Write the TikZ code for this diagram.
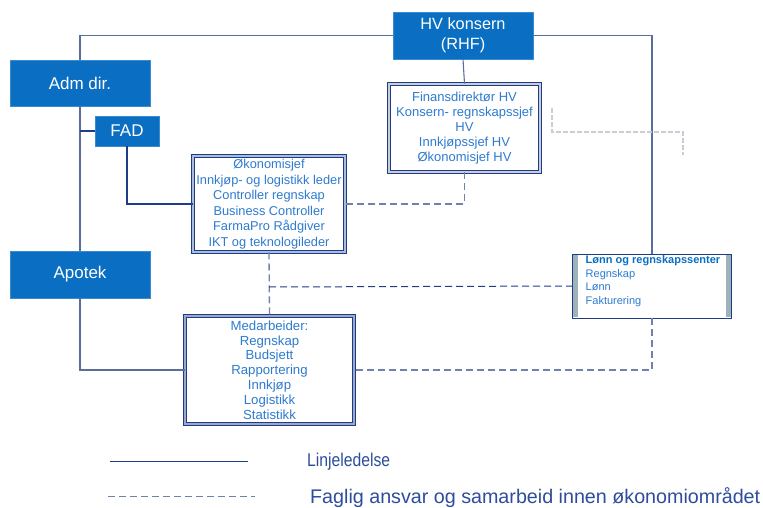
\documentclass[tikz,border=0pt]{standalone}
\usepackage{fontspec}
\setmainfont{Liberation Sans}
\newfontfamily\condfont[FakeStretch=0.85]{Liberation Sans}
\definecolor{boxblue}{HTML}{0A6FC2}
\definecolor{navy}{HTML}{1F3C88}
\definecolor{linegray}{HTML}{5A6E9E}
\definecolor{dashblue}{HTML}{6F82AE}
\definecolor{txtblue}{HTML}{2E7BCF}
\definecolor{legblue}{HTML}{2D4C9C}
\definecolor{bandblue}{HTML}{A9BCD8}
\definecolor{ghost}{HTML}{C8CDD6}
\definecolor{sidebar}{HTML}{9DB3B8}
\begin{document}
\begin{tikzpicture}[x=1pt,y=-1pt,
  bluebox/.style={rectangle,fill=boxblue,draw=boxblue!80!white,text=white,inner sep=0pt,align=center},
  whitebox/.style={rectangle,draw=navy,line width=0.8pt,double=bandblue,double distance=1.8pt,fill=white,text=txtblue,inner sep=0pt,align=center,font=\fontsize{12}{15}\selectfont},
  solidln/.style={draw=linegray,line width=1.1pt},
  dashln/.style={draw=dashblue,line width=1.3pt,dash pattern=on 7pt off 4pt},
  ghostln/.style={draw=ghost,line width=1.2pt,dash pattern=on 5pt off 2pt}
]
\useasboundingbox (0,0) rectangle (763,508);
% nodes
\node[bluebox,minimum width=140pt,minimum height=47pt,font=\fontsize{16.3}{20}\selectfont] (hv) at (463,35.5) {HV konsern\\(RHF)};
\node[bluebox,minimum width=140pt,minimum height=46pt,font=\fontsize{17}{18}\selectfont] (adm) at (80,83) {Adm dir.};
\node[bluebox,minimum width=64pt,minimum height=30pt,font=\fontsize{17}{18}\selectfont] (fad) at (127,131) {FAD};
\node[bluebox,minimum width=140pt,minimum height=47pt,font=\fontsize{17}{18}\selectfont] (apotek) at (80,274.5) {Apotek};
\node[whitebox,minimum width=152pt,minimum height=96pt,font=\fontsize{12.8}{15.5}\selectfont] (oko) at (269,204) {Økonomisjef\\Innkjøp- og logistikk leder\\Controller regnskap\\Business Controller\\FarmaPro Rådgiver\\IKT og teknologileder};
\node[whitebox,draw=navy,double=ghost,minimum width=151pt,minimum height=88pt,font=\fontsize{13}{15}\selectfont] (fin) at (464.5,128) {Finansdirektør HV\\Konsern- regnskapssjef\\HV\\Innkjøpssjef HV\\Økonomisjef HV};
\node[whitebox,double=linegray!60!white,minimum width=169pt,minimum height=108pt,font=\fontsize{13.2}{14.8}\selectfont] (med) at (269.5,370) {Medarbeider:\\Regnskap\\Budsjett\\Rapportering\\Innkjøp\\Logistikk\\Statistikk};
\node[rectangle,draw=navy,line width=0.9pt,fill=white,minimum width=159pt,minimum height=64pt,inner sep=0pt] (lonn) at (652,286) {};
\fill[sidebar] ([xshift=1pt,yshift=-1pt]lonn.north west) rectangle ([xshift=6pt,yshift=1pt]lonn.south west);
\fill[sidebar] ([xshift=-6pt,yshift=-1pt]lonn.north east) rectangle ([xshift=-1pt,yshift=1pt]lonn.south east);
\node[anchor=north west,text=txtblue,align=left,inner sep=0pt,font=\fontsize{11}{13.5}\selectfont] (lonntxt) at (585.5,255.5) {\textbf{\color{boxblue}Lønn og regnskapssenter}\\Regnskap\\Lønn\\Fakturering};
% solid connectors
\draw[solidln] (hv.west) -| (adm.north);
\draw[solidln] (hv.east) -| (lonn.north);
\draw[solidln] (hv.south) -- (fin.north);
\draw[solidln] (adm.south) -- (apotek.north);
\coordinate (br) at (80,131);
\draw[solidln,draw=navy] (br) -- (fad.west);
\draw[solidln,draw=navy] (fad.south) |- (oko.west);
\draw[solidln] (apotek.south) |- (med.west);
% dashed connectors
\draw[dashln] (fin.south) |- (oko.east);
\draw[dashln] (oko.south) -- (med.north);
\coordinate (dj) at (269,287);
\draw[dashln,draw=navy,line width=1pt] (dj) -- (lonn.west);
\draw[dashln] (lonn.south) |- (med.east);
% ghost line
\coordinate (g1) at (552,108);
\coordinate (g2) at (552,132);
\coordinate (g3) at (683,132);
\coordinate (g4) at (683,155);
\draw[ghostln] (g1) -- (g2) -- (g3) -- (g4);
% legend
\coordinate (la) at (110,461);
\coordinate (lb) at (248,461);
\draw[draw=navy,line width=1pt] (la) -- (lb);
\node[anchor=west,text=legblue,inner sep=0pt,font=\condfont\fontsize{18.5}{20}\selectfont] (leg1) at (307,462) {Linjeledelse};
\coordinate (lc) at (108,496);
\coordinate (ld) at (255,496);
\draw[dashln,line width=1pt,dash pattern=on 7pt off 4pt] (lc) -- (ld);
\node[anchor=west,text=legblue,inner sep=0pt,font=\fontsize{19.7}{22}\selectfont] (leg2) at (310,497.5) {Faglig ansvar og samarbeid innen økonomiområdet};
\end{tikzpicture}
\end{document}
